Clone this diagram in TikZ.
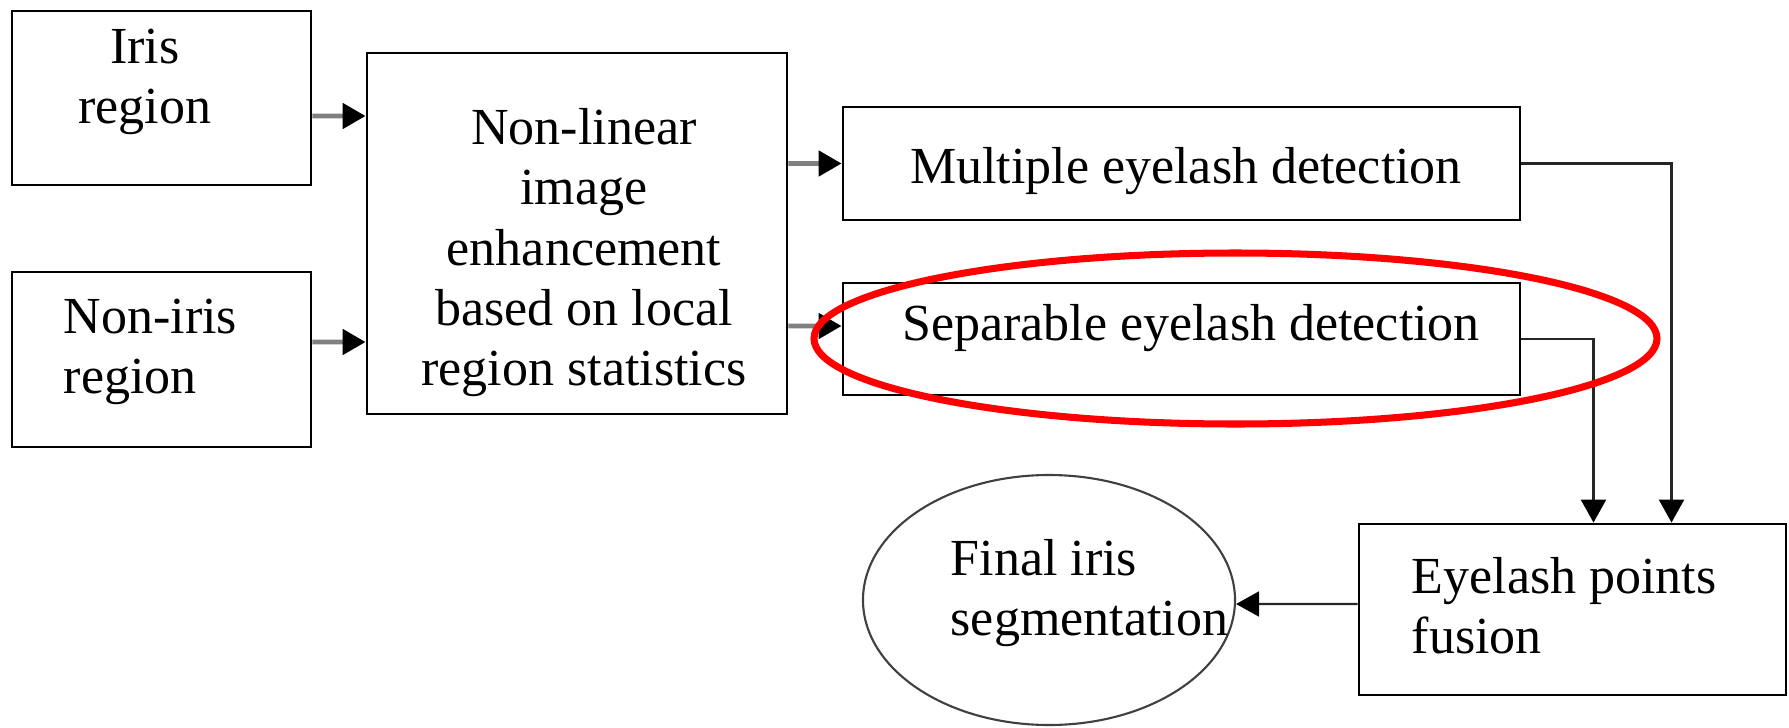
\documentclass[tikz,border=0pt]{standalone}
\usepackage{fontspec}
\setmainfont{Liberation Serif}
\usetikzlibrary{arrows.meta,positioning,calc,shapes.geometric}
\tikzset{
  >=Stealth,
  every node/.append style={font=\fontsize{14.8pt}{17.1pt}\selectfont},
}

\begin{document}
\begin{tikzpicture}[
    block/.style={
        rectangle,
        draw=black,
        line width=0.8pt,
        inner sep=0pt
    },
    caption/.style={inner sep=0pt, anchor=north, align=center},
    leftcaption/.style={inner sep=0pt, anchor=north west, align=left},
    feed/.style={
        draw=feedgray,
        line width=1.4pt,
        -{Triangle[length=2.3mm,width=2.5mm,color=black]}
    },
    link/.style={
        draw=black!85,
        line width=0.6pt,
        -{Triangle[length=2.3mm,width=2.5mm,color=black]}
    }
]
% Color definitions
\definecolor{feedgray}{RGB}{128,128,128}
\definecolor{markred}{RGB}{255,0,0}

\useasboundingbox (0,0) rectangle (17.89,-7.27);

% Nodes
\node[block, minimum width=2.99cm, minimum height=1.74cm] (iris) at (1.615,-0.98) {};
\node[block, minimum width=2.99cm, minimum height=1.75cm] (noniris) at (1.615,-3.595) {};
\node[block, minimum width=4.20cm, minimum height=3.61cm] (nonlin) at (5.77,-2.335) {};
\node[block, minimum width=6.77cm, minimum height=1.13cm] (multi) at (11.815,-1.635) {};
\node[block, minimum width=6.77cm, minimum height=1.12cm] (separ) at (11.815,-3.39) {};
\node[block, minimum width=4.27cm, minimum height=1.71cm] (fusion) at (15.725,-6.095) {};
\node[ellipse, draw=black!75, line width=0.6pt, inner sep=0pt,
      minimum width=3.72cm, minimum height=2.50cm] (final) at (10.49,-6.00) {};

% Texts
\node[caption] (iristext) at (1.45,-0.28) {Iris\\region};
\node[leftcaption] (noniristext) at (0.63,-2.98) {Non-iris\\region};
\node[caption] (nonlintext) at (5.84,-1.08) {Non-linear\\image\\enhancement\\based on local\\region statistics};
\node[caption] (multitext) at (11.86,-1.47) {Multiple eyelash detection};
\node[caption] (separtext) at (11.91,-3.04) {Separable eyelash detection};
\node[leftcaption] (fusiontext) at (14.11,-5.57) {Eyelash points\\fusion};
\node[leftcaption] (finaltext) at (9.50,-5.39) {Final iris\\segmentation};

% Arrows
\draw[feed] ([yshift=-1.8mm]iris.east) -- ([yshift=11.75mm]nonlin.west);
\draw[feed] ([yshift=1.75mm]noniris.east) -- ([yshift=-10.85mm]nonlin.west);
\draw[feed] ([yshift=7.0mm]nonlin.east) -- (multi.west);
\draw[feed] ([yshift=-9.25mm]nonlin.east) -- ([yshift=1.3mm]separ.west);
\draw[link] (multi.east) -| ([xshift=9.9mm]fusion.north);
\draw[link] (separ.east) -| ([xshift=2.1mm]fusion.north);
\draw[link] ([yshift=0.55mm]fusion.west) -- ([yshift=-0.4mm]final.east);

% Highlight
\node[ellipse, draw=markred, line width=2pt, inner sep=0pt,
      minimum width=8.43cm, minimum height=1.71cm] (highlight) at (12.355,-3.385) {};

\end{tikzpicture}
\end{document}
